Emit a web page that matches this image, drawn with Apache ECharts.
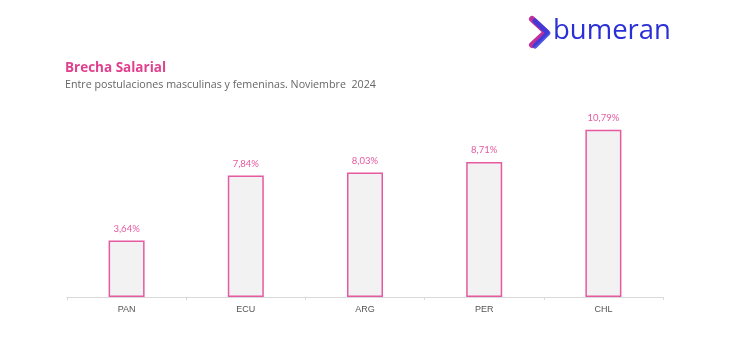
<!DOCTYPE html>
<html>
<head>
<meta charset="utf-8">
<script src="https://cdn.jsdelivr.net/npm/echarts@6/dist/echarts.min.js"></script>
<style>
  html, body { margin: 0; padding: 0; background: #fff; }
  #chart { width: 730px; height: 353px; }
</style>
</head>
<body>
<div id="chart"></div>
<script>
// datos
var paises = ['PAN', 'ECU', 'ARG', 'PER', 'CHL'];
var brecha = [3.64, 7.84, 8.03, 8.71, 10.79];

var rosa = '#e55aa0';
var myChart = echarts.init(document.getElementById('chart'));

var option = {
    backgroundColor: '#fff',
    animation: false,
    title: [{
        text: 'Brecha Salarial',
        left: 65, top: 61, padding: 0,
        textStyle: { color: '#e0418f', fontSize: 13.5, fontWeight: 'bold', fontFamily: 'Open Sans' }
    }, {
        text: 'Entre postulaciones masculinas y femeninas. Noviembre  2024',
        left: 65, top: 79, padding: 0,
        textStyle: { color: '#666', fontSize: 10.7, fontWeight: 'normal', fontFamily: 'Open Sans' }
    }],
    graphic: [{
        // logo bumeran
        type: 'polyline',
        shape: { points: [[532, 19], [546, 32], [532, 45]] },
        style: { stroke: '#c22f9a', lineWidth: 6, fill: null, lineCap: 'round', lineJoin: 'round' }
    }, {
        type: 'polyline',
        shape: { points: [[535, 21], [548, 33], [535, 46]] },
        style: { stroke: '#2c3be0', lineWidth: 5, fill: null, lineCap: 'round', lineJoin: 'round', opacity: 0.85 }
    }, {
        type: 'text',
        left: 553, top: 17,
        style: { text: 'bumeran', fill: '#2a2fd6', font: '500 27.5px "Open Sans"' }
    }],
    grid: { left: 67, right: 67, top: 111, bottom: 56 },
    xAxis: {
        type: 'category',
        data: paises,
        axisLine: { lineStyle: { color: '#d9d9d9', width: 1 } },
        axisTick: { show: true, length: 3, lineStyle: { color: '#d9d9d9' } },
        axisLabel: { color: '#555', fontSize: 9, margin: 8, fontFamily: 'Liberation Sans' }
    },
    yAxis: {
        type: 'value',
        min: 0, max: 12,
        show: false,
        splitLine: { show: false }
    },
    series: [{
        type: 'bar',
        data: brecha,
        barWidth: 36,
        itemStyle: { color: '#f2f2f2', borderColor: rosa, borderWidth: 1.5 },
        label: {
            show: true,
            position: 'top',
            distance: 7,
            color: rosa,
            fontSize: 9.5,
            fontFamily: 'Lato',
            formatter: function (p) { return p.value.toFixed(2).replace('.', ',') + '%'; }
        }
    }]
};
myChart.setOption(option);
window.addEventListener('resize', function () { myChart.resize(); });
</script>
</body>
</html>
